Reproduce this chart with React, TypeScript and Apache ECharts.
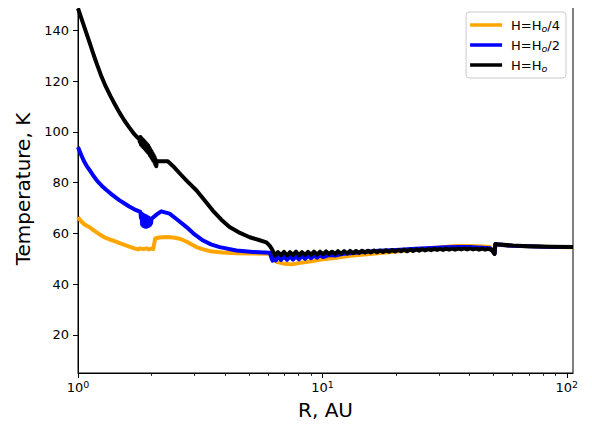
import React, { useEffect, useRef } from "react";
import * as echarts from "echarts";

// [R (AU), Temperature (K)]
const seriesNames = ["H=Ho/4", "H=Ho/2", "H=Ho"];
const legendLabels = ["H=H{sub|o}/4", "H=H{sub|o}/2", "H=H{sub|o}"];
const seriesColors = ["#FFA500", "#0000FF", "#000000"];

const orangeData: [number, number][] = [
  [1.0, 66.4], [1.03, 64.8], [1.06, 63.6], [1.09, 62.9], [1.12, 62.3], [1.16, 61.2], [1.2, 60.2],
  [1.25, 59.1], [1.3, 58.2], [1.36, 57.5], [1.42, 56.9], [1.48, 56.2], [1.55, 55.5], [1.62, 54.8],
  [1.7, 54.1], [1.76, 53.7], [1.8, 54.1], [1.85, 53.8], [1.9, 54.1], [1.95, 53.7],
  [2.0, 54.0], [2.03, 53.8], [2.07, 58.0], [2.15, 58.4], [2.3, 58.6], [2.45, 58.4], [2.61, 57.9],
  [2.8, 56.6], [3.05, 54.6], [3.25, 53.7], [3.47, 53.0], [3.9, 52.5], [4.45, 52.2], [5.2, 52.1],
  [6.09, 52.0], [6.2, 50.0], [6.5, 48.8], [7.0, 48.0], [7.5, 47.8], [8.0, 48.3], [9.0, 49.0],
  [10, 49.8], [11, 50.2], [13, 51.2], [16, 52.0], [20, 52.9], [25, 53.8], [30, 54.5], [35, 55.0],
  [40, 55.0], [45, 54.8], [48.5, 54.6], [50.2, 52.4], [50.6, 52.0], [51.0, 55.6], [60, 55.1],
  [80, 54.7], [106, 54.5],
];

const blueData: [number, number][] = [
  [1.0, 94.0], [1.03, 91.0], [1.06, 88.3], [1.09, 86.3], [1.12, 84.7], [1.16, 82.5], [1.2, 80.6],
  [1.25, 78.8], [1.3, 77.3], [1.36, 75.7], [1.42, 74.3], [1.48, 73.0], [1.55, 71.8], [1.62, 70.6],
  [1.7, 69.5], [1.76, 68.9], [1.8, 68.5], [1.81, 66.0], [1.82, 67.8], [1.83, 63.5], [1.84, 67.5],
  [1.85, 63.0], [1.86, 67.2], [1.87, 62.8], [1.88, 67.0], [1.89, 62.6], [1.9, 66.8], [1.91, 62.6],
  [1.92, 66.5], [1.93, 62.8], [1.94, 66.3], [1.95, 63.0], [1.96, 66.0], [1.97, 63.3], [1.98, 65.8],
  [1.99, 64.0], [2.0, 65.8], [2.1, 67.5], [2.19, 68.7], [2.37, 67.8], [2.55, 65.4], [2.78, 62.5],
  [3.0, 59.6], [3.25, 57.2], [3.5, 55.7], [3.8, 54.6], [4.45, 53.3], [5.2, 52.7], [6.09, 52.4],
  [6.25, 49.3], [6.35, 50.8], [6.45, 49.4], [6.58, 50.9], [6.77, 49.5], [6.97, 50.9], [7.17, 49.6],
  [7.37, 51.0], [7.58, 49.7], [7.8, 51.0], [8.02, 49.8], [8.25, 51.1], [8.49, 50.0], [8.73, 51.2],
  [8.98, 50.2], [9.24, 51.3], [9.5, 50.4], [9.78, 51.4], [10.06, 50.7], [10.64, 51.5], [11.26, 51.3],
  [12, 51.9], [13, 52.2], [15, 52.8], [17, 53.2], [20, 53.5], [24, 54.0], [28, 54.3], [32, 54.5],
  [36, 54.6], [40, 54.6], [45, 54.4], [48.5, 54.2], [50.2, 52.5], [50.6, 52.0], [51.0, 55.7],
  [60, 55.1], [80, 54.7], [106, 54.6],
];

const blackData: [number, number][] = [
  [1.0, 148.7], [1.03, 145.0], [1.06, 141.5], [1.09, 138.0], [1.12, 134.7], [1.16, 130.2],
  [1.2, 126.2], [1.25, 121.6], [1.3, 117.8], [1.36, 114.0], [1.42, 110.6], [1.48, 107.5],
  [1.55, 104.4], [1.62, 101.8], [1.7, 99.1], [1.76, 97.6], [1.78, 97.5], [1.79, 96.0], [1.8, 98.0],
  [1.81, 95.0], [1.82, 97.5], [1.83, 94.5], [1.84, 97.0], [1.85, 94.0], [1.86, 96.5], [1.87, 93.5],
  [1.88, 96.0], [1.89, 93.0], [1.9, 95.5], [1.91, 92.5], [1.92, 95.0], [1.93, 92.0], [1.94, 94.5],
  [1.95, 91.5], [1.96, 93.8], [1.97, 90.8], [1.98, 93.0], [1.99, 90.2], [2.0, 92.3], [2.01, 89.5],
  [2.02, 91.5], [2.03, 88.8], [2.04, 90.8], [2.05, 88.2], [2.06, 90.0], [2.07, 87.2], [2.08, 89.0],
  [2.09, 86.5], [2.1, 88.3], [2.12, 88.4], [2.33, 88.4], [2.45, 86.5], [2.61, 83.6], [2.8, 80.5],
  [3.05, 77.0], [3.3, 73.0], [3.56, 69.0], [3.85, 65.5], [4.17, 62.5], [4.6, 60.2], [5.04, 58.5],
  [5.5, 57.4], [5.9, 56.5], [6.08, 55.2], [6.2, 54.0], [6.4, 51.3], [6.58, 52.6], [6.77, 51.4],
  [6.97, 52.7], [7.17, 51.3], [7.37, 52.6], [7.58, 51.5], [7.8, 52.8], [8.02, 51.4], [8.25, 52.6],
  [8.49, 51.6], [8.73, 52.7], [8.98, 51.6], [9.24, 52.8], [9.5, 51.7], [9.78, 52.8], [10.06, 51.8],
  [10.35, 52.9], [10.64, 51.9], [10.95, 52.8], [11.26, 51.9], [11.58, 53.0], [11.92, 52.0],
  [12.26, 53.0], [12.61, 52.1], [12.97, 53.1], [13.34, 52.2], [13.73, 53.1], [14.12, 52.3],
  [14.53, 53.2], [14.94, 52.4], [15.37, 53.2], [15.81, 52.5], [16.27, 53.3], [16.73, 52.6],
  [17.21, 53.3], [17.71, 52.7], [18.22, 53.4], [18.74, 52.8], [19.28, 53.5], [19.83, 52.9],
  [20.4, 53.5], [20.98, 53.0], [21.59, 53.6], [22.2, 53.0], [22.84, 53.7], [23.5, 53.1],
  [24.17, 53.7], [24.87, 53.2], [25.58, 53.8], [26.31, 53.3], [27.07, 53.8], [27.85, 53.4],
  [28.65, 53.9], [29.47, 53.5], [30.31, 53.9], [31.18, 53.5], [32.08, 54.0], [33.0, 53.6],
  [33.95, 54.0], [34.92, 53.6], [35.92, 54.0], [36.95, 53.7], [38.01, 54.1], [39.1, 53.7],
  [40.23, 54.1], [41.38, 53.7], [42.57, 54.0], [43.79, 53.6], [45.05, 54.0], [46.34, 53.6],
  [47.67, 53.9], [49.04, 53.5], [49.8, 53.6], [50.2, 52.4], [50.6, 51.9], [51.0, 55.8],
  [52, 55.7], [60, 55.2], [70, 54.9], [85, 54.7], [106, 54.6],
];

const seriesData = [orangeData, blueData, blackData];

const xMin = 1;
const xMax = 106;
const yMin = 5;
const yMax = 150;
const yTicks = [20, 40, 60, 80, 100, 120, 140];
const xMajorTicks = [1, 10, 100];
const xMinorTicks = [2, 3, 4, 5, 6, 7, 8, 9, 20, 30, 40, 50, 60, 70, 80, 90];

const FONT = "DejaVu Sans";

export default function App() {
  const ref = useRef<HTMLDivElement>(null);
  useEffect(() => {
    if (!ref.current) return;
    const chart = echarts.init(ref.current, undefined, { renderer: "svg" });
    const lg = (v: number) => Math.log10(v);
    chart.setOption({
      animation: false,
      backgroundColor: "#fff",
      textStyle: { fontFamily: FONT },
      grid: {
        left: 78,
        right: 19,
        top: 5,
        bottom: 56,
        show: true,
        borderColor: "#000",
        borderWidth: 1,
        backgroundColor: "transparent",
      },
      legend: {
        data: seriesNames,
        orient: "vertical",
        right: 26,
        top: 12,
        icon: "rect",
        itemWidth: 32,
        itemHeight: 3.5,
        itemGap: 4,
        padding: [5, 6, 5, 4],
        borderColor: "#cccccc",
        borderWidth: 1,
        borderRadius: 3,
        backgroundColor: "rgba(255,255,255,0.8)",
        formatter: (name: string) => legendLabels[seriesNames.indexOf(name)],
        textStyle: {
          fontFamily: FONT,
          fontSize: 13,
          color: "#000",
          lineHeight: 16,
          padding: [0, 0, 0, 4],
          rich: {
            sub: {
              fontFamily: FONT,
              fontSize: 9.5,
              fontStyle: "italic",
              color: "#000",
              verticalAlign: "bottom",
              lineHeight: 10,
              padding: [6, 0, 0, 0],
            },
          },
        },
      },
      xAxis: [
        {
          type: "value",
          position: "bottom",
          min: lg(xMin),
          max: lg(xMax),
          name: "R, AU",
          nameLocation: "middle",
          nameGap: 27,
          nameTextStyle: { fontFamily: FONT, fontSize: 20, color: "#000" },
          axisLine: { show: true, lineStyle: { color: "#000", width: 1 } },
          axisTick: {
            show: true,
            inside: false,
            length: 5,
            lineStyle: { color: "#000", width: 1 },
            customValues: xMajorTicks.map(lg),
          },
          axisLabel: {
            show: true,
            margin: 6,
            color: "#000",
            fontFamily: FONT,
            fontSize: 13,
            customValues: xMajorTicks.map(lg),
            formatter: (v: number) => `10{sup|${Math.round(v)}}`,
            rich: {
              sup: {
                fontFamily: FONT,
                fontSize: 9.5,
                color: "#000",
                verticalAlign: "top",
                padding: [0, 0, 6, 0],
              },
            },
          },
          splitLine: { show: false },
        },
        {
          type: "value",
          position: "bottom",
          min: lg(xMin),
          max: lg(xMax),
          axisLine: { show: false },
          axisTick: {
            show: true,
            inside: false,
            length: 3,
            lineStyle: { color: "#000", width: 0.8 },
            customValues: xMinorTicks.map(lg),
          },
          axisLabel: { show: false },
          splitLine: { show: false },
        },
      ],
      yAxis: {
        type: "value",
        min: yMin,
        max: yMax,
        name: "Temperature, K",
        nameLocation: "middle",
        nameGap: 42,
        nameRotate: 90,
        nameTextStyle: { fontFamily: FONT, fontSize: 20, color: "#000" },
        axisLine: { show: true, lineStyle: { color: "#000", width: 1 } },
        axisTick: {
          show: true,
          inside: false,
          length: 5,
          lineStyle: { color: "#000", width: 1 },
          customValues: yTicks,
        },
        axisLabel: {
          show: true,
          margin: 9,
          color: "#000",
          fontFamily: FONT,
          fontSize: 13,
          customValues: yTicks,
        },
        splitLine: { show: false },
      },
      series: seriesData.map((d, i) => ({
        name: seriesNames[i],
        type: "line",
        xAxisIndex: 0,
        showSymbol: false,
        symbol: "none",
        clip: true,
        color: seriesColors[i],
        lineStyle: { color: seriesColors[i], width: 4, join: "round" },
        data: d.map(([r, t]) => [lg(r), t]),
      })),
    });
    return () => chart.dispose();
  }, []);
  return <div ref={ref} style={{ width: 592, height: 429, margin: -8 }} />;
}
